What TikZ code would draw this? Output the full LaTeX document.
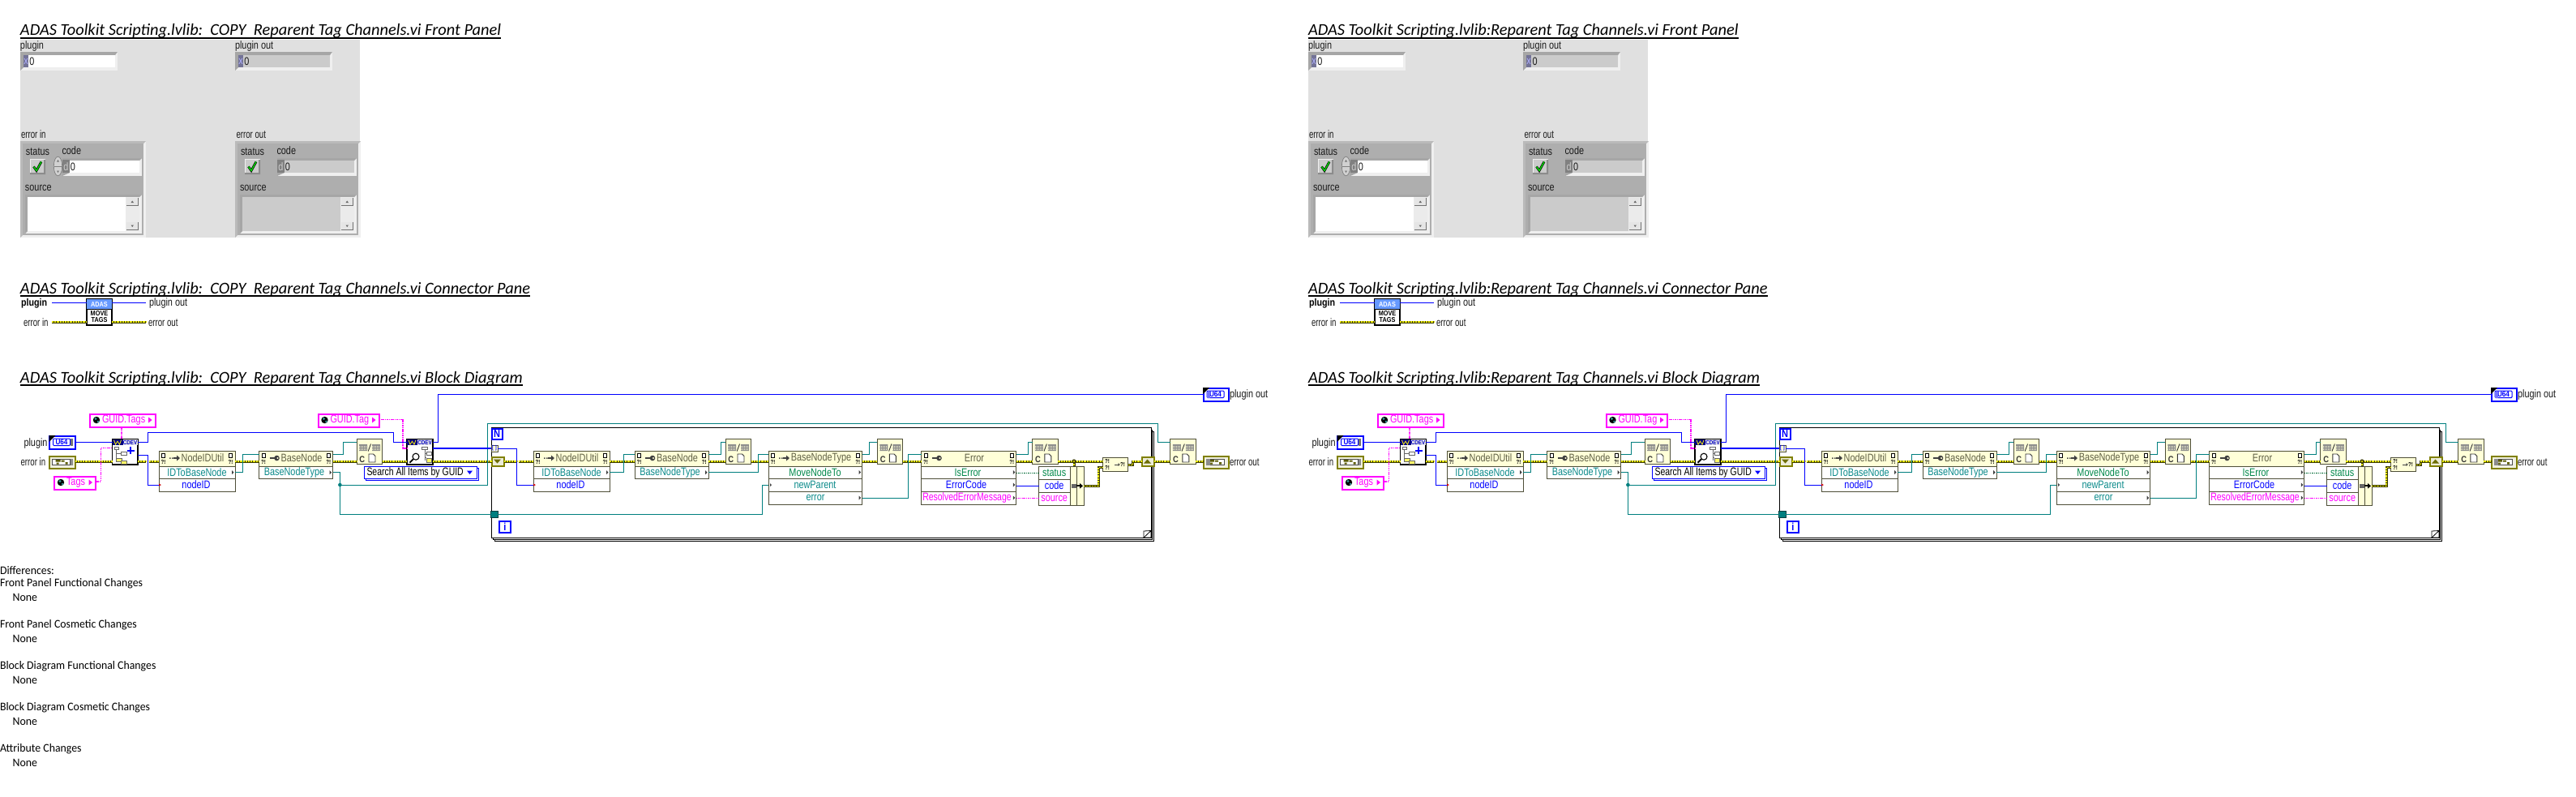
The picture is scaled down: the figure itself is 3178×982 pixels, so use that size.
\documentclass[tikz,border=0pt]{standalone}
\usepackage{fontspec}
\setmainfont{Carlito}
\newfontfamily\lvf[FakeStretch=0.8]{Liberation Sans}
\newfontfamily\lvn[FakeStretch=0.71]{Liberation Sans}
\newfontfamily\lvm[FakeStretch=0.77]{Liberation Sans}
\newfontfamily\lvb[FakeStretch=0.85]{Liberation Sans}
\newfontfamily\ttlf[FakeStretch=1.0]{Carlito}
\newfontfamily\dfff[FakeStretch=0.96]{Carlito}
\newcommand\lvsz{\lvf\fontsize{6.8pt}{7pt}\selectfont}
\newcommand\lvnsz{\lvn\fontsize{6.8pt}{7pt}\selectfont}
\newcommand\lvmsz{\lvm\fontsize{6.8pt}{7pt}\selectfont}
\newcommand\lvtiny{\lvb\bfseries\fontsize{3.6pt}{4pt}\selectfont}
\newcommand\ttlsz{\ttlf\itshape\fontsize{10.2pt}{11pt}\selectfont}
\newcommand\dfsz{\dfff\fontsize{7.2pt}{8pt}\selectfont}
\definecolor{pang}{HTML}{E0E0E0}
\definecolor{clg}{HTML}{AEAEAE}
\definecolor{bevd}{HTML}{A6A6A6}
\definecolor{bevl}{HTML}{EFEFEF}
\definecolor{indg}{HTML}{CBCBCB}
\definecolor{lblc}{HTML}{1A1A1A}
\definecolor{lvbl}{HTML}{0000FF}
\definecolor{lvte}{HTML}{007F7F}
\definecolor{lvmg}{HTML}{FF00FF}
\definecolor{lvgr}{HTML}{006B35}
\definecolor{lvol}{HTML}{808000}
\definecolor{errd}{HTML}{3C3C00}
\definecolor{erry}{HTML}{E8E800}
\definecolor{crm}{HTML}{FFFFD8}
\definecolor{pnb}{HTML}{4F4F38}
\definecolor{hdt}{HTML}{5F5F45}
\definecolor{rowt}{HTML}{0A8A8A}
\definecolor{grt}{HTML}{00884A}
\definecolor{adasb}{HTML}{6699FF}
\tikzset{
  x=0.5pt,y=-0.5pt,
  bwire/.style={draw=lvbl,line width=0.5pt},
  bwthick/.style={draw=lvbl,line width=1pt},
  twire/.style={draw=lvte,line width=0.5pt},
  mwire/.style={draw=lvmg,line width=0.7pt,dash pattern=on 0.8pt off 0.4pt},
  gwire/.style={draw=lvgr,line width=0.5pt,dash pattern=on 0.7pt off 0.5pt},
  ewire/.style={draw=errd,line width=1.5pt,postaction={draw=erry,line width=0.7pt,dash pattern=on 1.1pt off 0.5pt}},
  pnbox/.style={draw=pnb,line width=0.5pt,fill=white},
  hdbox/.style={draw=pnb,line width=0.5pt,fill=crm},
  loopb/.style={draw=black,line width=0.4pt,fill=white},
  guidb/.style={draw=lvmg,line width=1pt,fill=white},
  rowl/.style={anchor=center,inner sep=0,outer sep=0,font=\lvsz},
  cdevb/.style={draw=black,line width=0.6pt,fill=white},
}
\newcommand\lvbox[7][]{\node[anchor=north west,inner sep=0,outer sep=0,minimum width={(#5-#3)*0.5pt},minimum height={(#6-#4)*0.5pt},#1] (#2) at (#3,#4) {#7};}
\newcommand\lbl[5][]{\node[anchor=west,inner sep=0,outer sep=0,font=\lvsz,text=lblc,#1] (#2) at (#3,#4) {#5};}
\newcommand\ttlnode[4]{\node[anchor=base west,inner sep=0,outer sep=0,font=\ttlsz,text=black] (#1) at (25,#2) {#4};
  \draw[black,line width=1pt] (#1.west |- 0,#3) -- (#1.east |- 0,#3);}
\newcommand\bev[9]{\fill[bevl] (#1,#2) rectangle (#3,#4);
  \fill[bevd] (#1,#2)--(#3,#2)--(#7,#6)--(#5,#6)--(#5,#8)--(#1,#4)--cycle;
  \fill[#9] (#5,#6) rectangle (#7,#8);}
\newcommand\docg[2]{\draw[black,line width=0.35pt,fill=white] (#1,#2) rectangle ++(4,5);}
\newcommand\qm[3]{\node[inner sep=0,outer sep=0,font=\lvtiny,text=black] (#1) at (#2,#3) {?!};}
\newcommand\hicons[3]{%
  \docg{#2+3.7}{559}\docg{#3-7.7}{559}\qm{#1qa}{#2+5.5}{570}\qm{#1qb}{#3-5.5}{570}}
\newcommand\arrg[1]{\fill[black!70] (#1+13,564.4) rectangle ++(1.5,1.5) (#1+16,564.4) rectangle ++(1.5,1.5);
  \draw[black!75,line width=0.7pt] (#1+18,565) -- (#1+23,565);
  \fill[black!75] (#1+22,561.5)--(#1+26,565)--(#1+22,568.5)--cycle;}
\newcommand\keyg[1]{\draw[black!75,line width=0.8pt] (#1+13,565) -- (#1+19,565);
  \fill[black!75] (#1+22,565) circle[radius=3.3];\fill[crm] (#1+23,565) circle[radius=1.2];}
\newcommand\rowt[2]{\fill[black!75] (#1-4,#2-2.5)--(#1-1.5,#2)--(#1-4,#2+2.5)--cycle;}
\newcommand\idnode[2]{%
  \lvbox[pnbox]{#1}{#2}{556.7}{#2+94}{606}{}
  \lvbox[hdbox]{#1h}{#2}{556.7}{#2+94}{575}{}
  \draw[pnb,line width=0.5pt] (#1.west |- 0,590) -- (#1.east |- 0,590);
  \hicons{#1}{#2}{#2+94}\arrg{#2}
  \node[rowl,text=hdt] (#1t) at (#2+54,565) {NodeIDUtil};
  \node[rowl,text=rowt] (#1a) at (#2+47,582.5) {IDToBaseNode};
  \node[rowl,text=lvbl] (#1b) at (#2+46,598) {nodeID};
  \rowt{#2+94}{582.5}
  \fill[red!80!black] (#2,596.5)--(#2+3,598)--(#2,599.5)--cycle;}
\newcommand\bnode[2]{%
  \lvbox[pnbox]{#1}{#2}{556.7}{#2+91.2}{590.7}{}
  \lvbox[hdbox]{#1h}{#2}{556.7}{#2+91.2}{575}{}
  \hicons{#1}{#2}{#2+91.2}\keyg{#2}
  \node[rowl,text=hdt] (#1t) at (#2+52.5,565) {BaseNode};
  \node[rowl,text=rowt] (#1a) at (#2+43.5,582.7) {BaseNodeType};
  \rowt{#2+91.2}{582.7}}
\newcommand\cnode[2]{%
  \lvbox[hdbox]{#1}{#2}{541}{#2+31.5}{572.7}{}
  \begin{scope}[shift={(#2,541)}]
    \fill[black!45] (3,7) rectangle (13,15) (19,7) rectangle (29,15);
    \draw[crm,line width=0.35pt,dash pattern=on 0.5pt off 0.5pt] (3,9)--(13,9) (3,11)--(13,11) (3,13)--(13,13) (19,9)--(29,9) (19,11)--(29,11) (19,13)--(29,13);
    \draw[black!80,line width=0.45pt] (14.2,15.5)--(17.5,6.5);
    \node[inner sep=0,outer sep=0,font=\lvb\bfseries\fontsize{5.5pt}{6pt}\selectfont,text=black!80] (#1c) at (6.8,26) {C};
    \draw[black!80,line width=0.45pt,fill=white] (15,19) -- (20.5,19) -- (23,21.5) -- (23,29) -- (15,29) -- cycle;
  \end{scope}}
\newcommand\treeg{\draw[black!60,line width=0.35pt] (5,13)--(5,26)--(9,26) (5,18)--(10,18);
  \draw[black!60,line width=0.35pt,fill=white] (3,10) rectangle (8,13) (11,16.5) rectangle (18,20);
  \draw[black!60,line width=0.4pt,fill=yellow!60] (5,24) rectangle (12,28);
  \draw[black!60,line width=0.4pt,fill=yellow!60] (11,27.5) rectangle (18,31);}
\newcommand\cdevhd[1]{\fill[black!8] (0.4,0.4) rectangle (31,8);
  \fill[blue!50!black] (0.4,0.4) rectangle (13,8);
  \draw[yellow!90!black,line width=0.45pt] (2,1.5)--(4,7)--(6.5,3)--(9,7)--(11,1.5);
  \node[inner sep=0,outer sep=0,font=\lvb\bfseries\fontsize{3.7pt}{4pt}\selectfont,text=blue!75!black] (#1) at (22,4.4) {CDEV};}
\newcommand\cdevadd[1]{\lvbox[cdevb]{#1}{138.5}{541.2}{170}{573}{}
  \begin{scope}[shift={(138.5,541.2)}]\cdevhd{#1h}\treeg
   \draw[lvbl,line width=1.1pt] (18,14.5)--(27,14.5) (22.5,10)--(22.5,19);\end{scope}}
\newcommand\cdevfind[1]{\lvbox[cdevb]{#1}{502}{541.2}{534}{573}{}
  \begin{scope}[shift={(502,541.2)}]\cdevhd{#1h}
   \draw[black!60,line width=0.35pt] (22,13)--(22,27) (22,18)--(24,18) (22,23)--(24,23);
   \draw[black!60,line width=0.35pt,fill=white] (18,10.5) rectangle (25,13.5) (24,16) rectangle (30,20) ;
   \draw[black!60,line width=0.4pt,fill=yellow!60] (24,24) rectangle (30,29);
   \draw[black,line width=0.55pt,fill=white] (11,22) circle[radius=4];
   \draw[black,line width=0.9pt] (8,25)--(3.5,29.5);\end{scope}}
\newcommand\uterm[3]{%
  \lvbox[draw=lvbl,line width=1pt,fill=white]{#1}{#2+0.5}{#3+0.5}{#2+31}{#3+16}{}
  \fill[black] (#2,#3)--(#2+8,#3)--(#2,#3+8)--cycle;
  \draw[lvbl,line width=0.5pt,rounded corners=0.5pt] (#2+5,#3+4) rectangle (#2+26,#3+12.5);
  \node[inner sep=0,outer sep=0,font=\lvb\bfseries\fontsize{4.8pt}{5pt}\selectfont,text=lvbl] (#1t) at (#2+15.5,#3+8.3) {U64};}
\newcommand\eterm[3]{%
  \lvbox[draw=lvol,line width=1pt,fill=white!88!lvol]{#1}{#2+0.5}{#3+0.5}{#2+31}{#3+15}{}
  \draw[black!70,line width=0.4pt,fill=white] (#2+4,#3+4) rectangle (#2+26,#3+11.5);
  \fill[lvol!70!black] (#2+8,#3+5) rectangle (#2+14,#3+7.5) (#2+15,#3+5.5) rectangle (#2+19,#3+7.5) (#2+9,#3+8.5) rectangle (#2+12,#3+10.5) (#2+20,#3+8) rectangle (#2+23,#3+10.5);}
\newcommand\guidn[5]{%
  \lvbox[guidb]{#1}{#2+1}{#4+1}{#3-1}{#4+15}{}
  \fill[black] (#2+9,#4+8) circle[radius=4.2];
  \fill[lvte!80!white] (#2+8,#4+6.5) circle[radius=1.7] (#2+11,#4+10) circle[radius=1.4];
  \lbl[text=lvmg]{#1t}{#2+16}{#4+8.2}{#5}
  \fill[lvmg] (#3-7.5,#4+4.5)--(#3-3,#4+8)--(#3-7.5,#4+11.5)--cycle;}
\newcommand\shreg[4]{%
  \lvbox[draw=lvol,line width=1pt,fill=white!85!lvol]{#1}{#2+0.5}{#3+0.5}{#2+14.5}{#3+10.5}{}
  \ifnum#4=1 \fill[lvol!85!black] (#2+3,#3+8)--(#2+12,#3+8)--(#2+7.5,#3+3)--cycle;
  \else \fill[lvol!85!black] (#2+3,#3+3)--(#2+12,#3+3)--(#2+7.5,#3+8)--cycle;\fi}
\newcommand\errcl[3]{\begin{scope}[shift={(#1,0)}]
  \fill[bevl] (25,174) rectangle (180,293);
  \fill[clg!85!white] (25,174)--(180,174)--(177,177)--(28,177)--(28,290)--(25,293)--cycle;
  \fill[clg] (28,177) rectangle (177,290);
  \lbl{#2lst}{32}{187}{status}\lbl{#2lco}{76.5}{186}{code}\lbl{#2lso}{31}{232}{source}
  \fill[bevl] (37,196) rectangle (56,215);\fill[black!45] (54,197) rectangle (56,215) (37,213) rectangle (56,215);
  \fill[indg] (38,197) rectangle (54,213);
  \draw[black,line width=1.4pt] (41.5,205.5)--(45,210.5)--(51,199.5);
  \draw[green!85!black,line width=0.7pt] (41.5,205.5)--(45,210.5)--(51,199.5);
  \bev{77}{195}{175}{217}{86}{198}{172}{213}{#3}
  \fill[black!50] (77,197) rectangle (86,213);
  \node[inner sep=0,outer sep=0,font=\lvsz,text=white!80!black] (#2d) at (81.5,205.5) {d};
  \node[inner sep=0,outer sep=0,font=\lvsz,text=lblc] (#2z) at (90,205.5) {0};
  \bev{31}{240}{175}{288}{34}{243}{172}{285}{#3}
  \fill[white!92!black] (155,243) rectangle (172,285);
  \foreach \yy in {244,274}{\fill[black!55] (155.5,\yy) rectangle (171,\yy+9.5);\fill[white!90!black] (155.5,\yy) rectangle (170,\yy+8.5);}
  \fill[black!60] (161.5,250)--(165,250)--(163.2,247.5)--cycle (161.5,277.5)--(165,277.5)--(163.2,280)--cycle;
 \end{scope}}
\newcommand\numc[4]{%
  \bev{#2}{64}{#2+120}{87}{#2+4}{68}{#2+117}{83}{#3}
  \fill[blue!25!black!55] (#2+4,68) rectangle (#2+10,83);
  \node[inner sep=0,outer sep=0,font=\lvsz,text=white!70!blue] (#1x) at (#2+7,75.5) {x};
  \node[inner sep=0,outer sep=0,font=\lvsz,text=lblc] (#1z) at (#2+14.5,75.5) {0};}
\newcommand\frontpanel[1]{
  \ttlnode{tfp}{43}{47}{#1}
  \fill[pang] (25,49) rectangle (444,293);
  \lbl{l1}{25}{57}{plugin}\lbl{l2}{290}{57}{plugin out}
  \lbl[font=\lvnsz]{l3}{26}{166}{error in}\lbl[font=\lvnsz]{l4}{291.5}{166}{error out}
  \numc{pi}{25}{white}{}\numc{po}{290}{indg}{}
  \errcl{0}{ei}{white}\errcl{265}{eo}{indg}
  \draw[black!50,line width=0.35pt,fill=black!18] (71.5,205) ellipse[x radius=5.2,y radius=11.8];
  \draw[black!50,line width=0.35pt] (66.5,205)--(76.5,205);
  \fill[black!55] (70,199.5)--(73,199.5)--(71.5,197)--cycle (70,210.5)--(73,210.5)--(71.5,213)--cycle;
}
\newcommand\conpane[1]{
  \ttlnode{tcp}{362}{365}{#1}
  \lbl[font=\lvb\bfseries\fontsize{6.3pt}{7pt}\selectfont,text=black]{cp1}{26}{374}{plugin}
  \lbl{cp2}{184}{374}{plugin out}\lbl[font=\lvnsz]{cp3}{29}{398}{error in}\lbl[font=\lvnsz]{cp4}{183}{398}{error out}
  \lvbox[draw=black,line width=0.6pt,fill=white]{ic}{107}{369}{138}{401}{}
  \fill[adasb] (107.4,369.4) rectangle (137.6,381);
  \draw[black,line width=0.5pt] (107,381)--(138,381);
  \node[inner sep=0,outer sep=0,font=\lvb\bfseries\fontsize{4.3pt}{5pt}\selectfont,text=white] (ica) at (122.5,375.4) {ADAS};
  \node[inner sep=0,outer sep=0,font=\lvb\bfseries\fontsize{4.3pt}{5pt}\selectfont,text=black] (icb) at (122.5,386.5) {MOVE};
  \node[inner sep=0,outer sep=0,font=\lvb\bfseries\fontsize{4.3pt}{5pt}\selectfont,text=black] (icc) at (122.5,394.8) {TAGS};
  \draw[bwire] (64,373) -- (ic.west |- 0,373);
  \draw[bwire] (ic.east |- 0,373) -- (180,373);
  \draw[ewire] (64,397) -- (ic.west |- 0,397);
  \draw[ewire] (ic.east |- 0,397) -- (180,397);
}
\newcommand\blockdiagram[1]{
  \ttlnode{tbd}{472}{475}{#1}
  \lvbox[loopb]{lp3}{610}{532}{1423}{667}{}
  \lvbox[loopb]{lp2}{608}{530}{1421.5}{665}{}
  \lvbox[loopb]{lp}{606}{527.7}{1420}{663}{}
  \draw[black,line width=0.4pt,fill=white] (1411,663)--(1420,654.5)--(1420,663)--cycle;
  \draw[black,line width=0.4pt] (1411,663)--(1411,655)--(1420,654.5);
  \lbl{lpl}{29.5}{547}{plugin}\lbl[font=\lvnsz]{ler}{25.6}{570}{error in}
  \uterm{tp}{60.5}{537}\eterm{te}{60.5}{562}
  \fill[black!55] (60.5+26.5,541) rectangle (60.5+29.5,549.5);
  \fill[black!45] (60.5+26.5,566) rectangle (60.5+29.5,574);
  \guidn{gts}{110}{190.6}{510}{GUID.Tags}
  \guidn{gtg}{391.5}{466.5}{510}{GUID.Tag}
  \guidn{tg}{66}{117}{587}{Tags}
  \cdevadd{c1}\cdevfind{c2}
  \idnode{n1}{196}\bnode{b1}{319.5}\cnode{x1}{440}
  \lvbox[draw=lvbl,line width=0.5pt,fill=white]{rgs}{451.7}{577}{590}{592.7}{}
  \lvbox[draw=lvbl,line width=0.5pt,fill=white]{rg}{449.7}{575}{588}{590.7}{}
  \lbl[text=black,font=\lvmsz]{rgt}{452.5}{583}{Search All Items by GUID}
  \fill[lvbl] (576,580.5)--(583,580.5)--(579.5,585)--cycle;
  \lvbox[draw=lvbl,line width=1pt,fill=white]{nb}{606.5}{528.5}{620}{542}{}
  \node[inner sep=0,outer sep=0,font=\lvb\bfseries\fontsize{6.5pt}{7pt}\selectfont,text=lvbl] (nt) at (613.2,535.5) {N};
  \lvbox[draw=lvbl,line width=1pt,fill=white]{ib}{616}{642.5}{630}{656.5}{}
  \node[inner sep=0,outer sep=0,font=\lvb\bfseries\fontsize{6.5pt}{7pt}\selectfont,text=lvbl] (it) at (623,649.7) {i};
  \lvbox[draw=pnb,line width=0.4pt,fill=crm]{tu}{606}{549}{614}{557}{}
  \node[inner sep=0,outer sep=0,font=\lvb\bfseries\fontsize{3.5pt}{4pt}\selectfont,text=lvbl] (tut) at (610,552.8) {[ ]};
  \lvbox[draw=lvte!50!black,line width=0.3pt,fill=lvte]{tb}{605.7}{630}{614}{638}{}
  \shreg{srl}{606}{563.5}{0}\shreg{srr}{1408}{563.5}{1}
  \idnode{n2}{658}\bnode{b2}{783}\cnode{x2}{895}
  \lvbox[pnbox]{mv}{948}{556.7}{1063.7}{622}{}
  \lvbox[hdbox]{mvh}{948}{556.7}{1063.7}{575}{}
  \draw[pnb,line width=0.5pt] (mv.west |- 0,590)--(mv.east |- 0,590) (mv.west |- 0,606)--(mv.east |- 0,606);
  \hicons{mv}{948}{1063.7}\arrg{948}
  \node[rowl,text=hdt] (mvt) at (1013,565) {BaseNodeType};
  \node[rowl,text=grt] (mva) at (1005.5,582.5) {MoveNodeTo};
  \node[rowl,text=rowt] (mvb) at (1005.5,598) {newParent};
  \node[rowl,text=rowt] (mvc) at (1006,614) {error};
  \rowt{1063.7}{582.5}\rowt{1063.7}{614}
  \fill[black!75] (950,596)--(952,598)--(950,600)--cycle;
  \cnode{x3}{1082.4}
  \lvbox[pnbox]{er}{1136.5}{556.7}{1253.8}{622}{}
  \lvbox[hdbox]{erh}{1136.5}{556.7}{1253.8}{575}{}
  \draw[pnb,line width=0.5pt] (er.west |- 0,590)--(er.east |- 0,590) (er.west |- 0,606)--(er.east |- 0,606);
  \hicons{er}{1136.5}{1253.8}\keyg{1136.5}
  \node[rowl,text=hdt] (ert) at (1202,565) {Error};
  \node[rowl,text=grt] (era) at (1194,582.5) {IsError};
  \node[rowl,text=lvbl] (erb) at (1192,598) {ErrorCode};
  \node[rowl,text=lvmg,font=\lvmsz] (erc) at (1193,614) {ResolvedErrorMessage};
  \rowt{1253.8}{582.5}\rowt{1253.8}{598}\rowt{1253.8}{614}
  \cnode{x4}{1273.8}
  \lvbox[pnbox]{bd}{1281.7}{575}{1320}{623}{}
  \draw[pnb,line width=0.5pt] (bd.west |- 0,591)--(bd.east |- 0,591) (bd.west |- 0,607)--(bd.east |- 0,607);
  \node[rowl,text=grt] (bda) at (1300.7,583) {status};
  \node[rowl,text=lvbl] (bdb) at (1300.7,599) {code};
  \node[rowl,text=lvmg] (bdc) at (1300.7,615) {source};
  \lvbox[hdbox]{bu}{1320}{575}{1337}{623}{}
  \draw[pnb,line width=0.5pt] (1328.3,575)--(1328.3,623);
  \lvbox[hdbox]{mg}{1360.7}{564}{1391.7}{581.7}{}
  \qm{mgq1}{1366}{568.5}\qm{mgq2}{1366}{576.5}\qm{mgq3}{1385}{573}
  \draw[black!75,line width=0.4pt] (1375,573)--(1380.5,573);
  \fill[black!75] (1379.5,571)--(1381.5,573)--(1379.5,575)--cycle;
  \cnode{x5}{1443.8}
  \uterm{tq}{1484}{478}\eterm{tf}{1484}{562}
  \fill[lvbl!55] (1489,483) rectangle (1493,491);
  \fill[black!45] (1488,566) rectangle (1493,574);
  \lbl{lq}{1517}{487}{plugin out}\lbl[font=\lvnsz]{lf}{1517}{570}{error out}
  \draw[ewire] (te.east |- 0,569) -- (c1.west |- 0,569);
  \draw[ewire] (c1.east |- 0,569) -- (180,569);
  \draw[ewire] (184,569) -- (n1.west |- 0,569);
  \draw[ewire] (n1.east |- 0,569) -- (b1.west |- 0,569);
  \draw[ewire] (b1.east |- 0,569) -- (x1.west |- 0,569);
  \draw[ewire] (x1.east |- 0,569) -- (c2.west |- 0,569);
  \draw[ewire] (c2.east |- 0,569) -- (srl.west |- 0,569);
  \draw[ewire] (srl.east |- 0,569) -- (638,569);
  \draw[ewire] (640,569) -- (n2.west |- 0,569);
  \draw[ewire] (n2.east |- 0,569) -- (b2.west |- 0,569);
  \draw[ewire] (b2.east |- 0,569) -- (x2.west |- 0,569);
  \draw[ewire] (x2.east |- 0,569) -- (mv.west |- 0,569);
  \draw[ewire] (mv.east |- 0,569) -- (x3.west |- 0,569);
  \draw[ewire] (x3.east |- 0,569) -- (er.west |- 0,569);
  \draw[ewire] (er.east |- 0,569) -- (x4.west |- 0,569);
  \draw[ewire] (x4.east |- 0,569) -- (mg.west |- 0,569);
  \draw[ewire] (1325,569) -- (1325,575);
  \draw[ewire] (bu.east |- 0,599.3) -- (1355,599.3) -- (1355,576.7) -- (mg.west |- 0,576.7);
  \draw[ewire] (mg.east |- 0,573.3) -- (1397.7,573.3) -- (1397.7,569) -- (srr.west |- 0,569);
  \draw[ewire] (srr.east |- 0,569) -- (x5.west |- 0,569);
  \draw[ewire] (x5.east |- 0,569) -- (tf.west |- 0,569);
  \fill[errd] (1325,569) circle[radius=2.6];\fill[erry] (1325,569) circle[radius=1.2];
  \draw[twire] (n1.east |- 0,582) -- (299,582) -- (299,560) -- (b1.west |- 0,560);
  \draw[twire] (b1.east |- 0,560) -- (423.6,560) -- (423.6,545) -- (x1.west |- 0,545);
  \draw[twire] (b1.east |- 0,582.7) -- (419.4,582.7) -- (419.4,634) -- (tb.west |- 0,634);
  \draw[twire] (419.4,598) -- (601.7,598) -- (601.7,522.3) -- (1428,522.3) -- (1428,545) -- (x5.west |- 0,545);
  \fill[lvte] (419.4,598) circle[radius=2.3];
  \draw[twire] (tb.east |- 0,634) -- (940,634) -- (940,598) -- (mv.west |- 0,598);
  \draw[twire] (n2.east |- 0,582) -- (769,582) -- (769,560) -- (b2.west |- 0,560);
  \draw[twire] (b2.east |- 0,560) -- (889,560) -- (889,545) -- (x2.west |- 0,545);
  \draw[twire] (b2.east |- 0,582.7) -- (935,582.7) -- (935,560) -- (mv.west |- 0,560);
  \draw[twire] (mv.east |- 0,560) -- (1072.7,560) -- (1072.7,545) -- (x3.west |- 0,545);
  \draw[twire] (mv.east |- 0,614) -- (1120.7,614) -- (1120.7,560) -- (er.west |- 0,560);
  \draw[twire] (er.east |- 0,560) -- (1268,560) -- (1268,545) -- (x4.west |- 0,545);
  \draw[bwire] (tp.east |- 0,545) -- (c1.west |- 0,545);
  \draw[bwire] (c1.east |- 0,545) -- (182.5,545) -- (182.5,533.7) -- (485,533.7) -- (485,545) -- (c2.west |- 0,545);
  \draw[bwire] (c1.east |- 0,561) -- (182.5,561) -- (182.5,598) -- (n1.west |- 0,598);
  \draw[bwire] (c2.east |- 0,545) -- (540,545) -- (540,486.7) -- (tq.west |- 0,486.7);
  \draw[bwthick] (c2.east |- 0,553) -- (tu.west |- 0,553);
  \draw[bwire] (tu.east |- 0,553) -- (637,553) -- (637,598) -- (n2.west |- 0,598);
  \draw[bwire] (er.east |- 0,599) -- (bd.west |- 0,599);
  \fill[black!60] (1322,597) rectangle (1328,601.5);
  \draw[black,line width=0.9pt] (1328,599.3)--(1333,599.3);
  \fill[black] (1332,596)--(1336,599.3)--(1332,602.6)--cycle;
  \draw[mwire] (150,526) -- (150,541);
  \draw[mwire] (tg.east |- 0,594) -- (124.4,594) -- (124.4,552.7) -- (c1.west |- 0,552.7);
  \draw[mwire] (gtg.east |- 0,517.7) -- (497,517.7) -- (497,553) -- (c2.west |- 0,553);
  \draw[mwire] (er.east |- 0,614.7) -- (bd.west |- 0,614.7);
  \draw[gwire] (er.east |- 0,583) -- (bd.west |- 0,583);
}
\begin{document}
\begin{tikzpicture}
  \useasboundingbox[fill=white] (0,0) rectangle (3178,982);
  \begin{scope}[name prefix=a-]
    \frontpanel{ADAS Toolkit Scripting.lvlib:\ \ COPY\ \ Reparent Tag Channels.vi Front Panel}
    \conpane{ADAS Toolkit Scripting.lvlib:\ \ COPY\ \ Reparent Tag Channels.vi Connector Pane}
    \blockdiagram{ADAS Toolkit Scripting.lvlib:\ \ COPY\ \ Reparent Tag Channels.vi Block Diagram}
  \end{scope}
  \begin{scope}[shift={(1589,0)},name prefix=b-]
    \frontpanel{ADAS Toolkit Scripting.lvlib:Reparent Tag Channels.vi Front Panel}
    \conpane{ADAS Toolkit Scripting.lvlib:Reparent Tag Channels.vi Connector Pane}
    \blockdiagram{ADAS Toolkit Scripting.lvlib:Reparent Tag Channels.vi Block Diagram}
  \end{scope}
  \foreach \nm/\yy/\xx/\tx in {d0/704/0/Differences:,d1/720/0/Front Panel Functional Changes,d2/737/15.7/None,d3/771/0/Front Panel Cosmetic Changes,d4/788/15.7/None,d5/822/0/Block Diagram Functional Changes,d6/839/15.7/None,d7/873/0/Block Diagram Cosmetic Changes,d8/890/15.7/None,d9/924/0/Attribute Changes,d10/941/15.7/None}
    {\node[anchor=west,inner sep=0,outer sep=0,font=\dfsz,text=black] (\nm) at (\xx,\yy) {\tx};}
\end{tikzpicture}
\end{document}
